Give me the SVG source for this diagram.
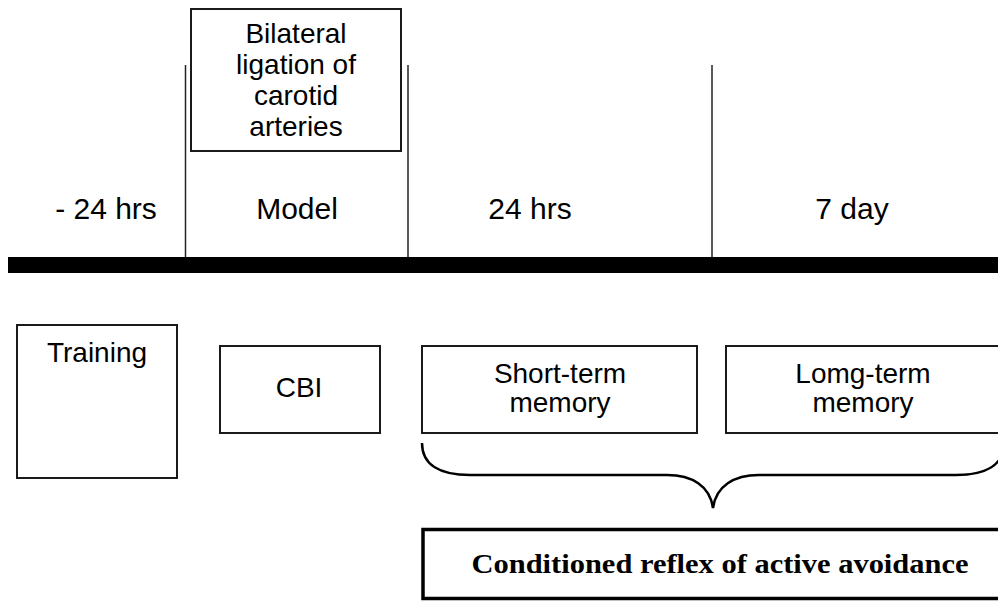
<svg xmlns="http://www.w3.org/2000/svg" width="998" height="601" viewBox="0 0 998 601">
  <style>
    .box { fill: #ffffff; stroke: #1a1a1a; stroke-width: 2; }
    .thick { fill: #ffffff; stroke: #000000; stroke-width: 3.5; }
    .tick { stroke: #222222; stroke-width: 1.5; fill: none; }
    .lbl { font-family: "Liberation Sans", Arial, sans-serif; font-size: 28px; fill: #000000; text-anchor: middle; }
    .tl { font-family: "Liberation Sans", Arial, sans-serif; font-size: 30px; fill: #000000; text-anchor: middle; }
    .ser { font-family: "Liberation Serif", "Times New Roman", serif; font-size: 28px; font-weight: bold; fill: #000000; text-anchor: middle; }
  </style>
  <rect x="0" y="0" width="998" height="601" fill="#ffffff"/>

  <g id="connectors">
    <line class="tick" x1="185.5" y1="65" x2="185.5" y2="258"/>
    <line class="tick" x1="408" y1="65" x2="408" y2="258"/>
    <line class="tick" x1="712" y1="65" x2="712" y2="258"/>
    <rect x="8" y="257" width="992" height="16" fill="#000000"/>
    <path d="M422,443 C422,465 440,475 470,475 L667,475 C692,475 710,486 713,508 C716,486 734,475 759,475 L956,475 C986,475 1004,465 1004,443" fill="none" stroke="#000000" stroke-width="2.5"/>
  </g>

  <g id="label-minus24">
    <text class="tl" x="106" y="219">- 24 hrs</text>
  </g>
  <g id="label-model">
    <text class="tl" x="297" y="219">Model</text>
  </g>
  <g id="label-24">
    <text class="tl" x="530" y="219">24 hrs</text>
  </g>
  <g id="label-7day">
    <text class="tl" x="852" y="219">7 day</text>
  </g>

  <g id="bilateral">
    <rect class="box" x="191" y="9" width="210" height="142"/>
    <text class="lbl" x="296" y="43">Bilateral</text>
    <text class="lbl" x="296" y="74">ligation of</text>
    <text class="lbl" x="296" y="105">carotid</text>
    <text class="lbl" x="296" y="136">arteries</text>
  </g>

  <g id="training">
    <rect class="box" x="17" y="325" width="160" height="153"/>
    <text class="lbl" x="97" y="362">Training</text>
  </g>

  <g id="cbi">
    <rect class="box" x="220" y="346" width="160" height="87"/>
    <text class="lbl" x="299" y="397">CBI</text>
  </g>

  <g id="short-term">
    <rect class="box" x="422" y="346" width="275" height="87"/>
    <text class="lbl" x="560" y="383">Short-term</text>
    <text class="lbl" x="560" y="412">memory</text>
  </g>

  <g id="long-term">
    <rect class="box" x="726" y="346" width="290" height="87"/>
    <text class="lbl" x="863" y="383">Lomg-term</text>
    <text class="lbl" x="863" y="412">memory</text>
  </g>

  <g id="conditioned">
    <rect class="thick" x="423" y="529.5" width="600" height="69"/>
    <text class="ser" x="720" y="573" textLength="497" lengthAdjust="spacingAndGlyphs">Conditioned reflex of active avoidance</text>
  </g>
</svg>
